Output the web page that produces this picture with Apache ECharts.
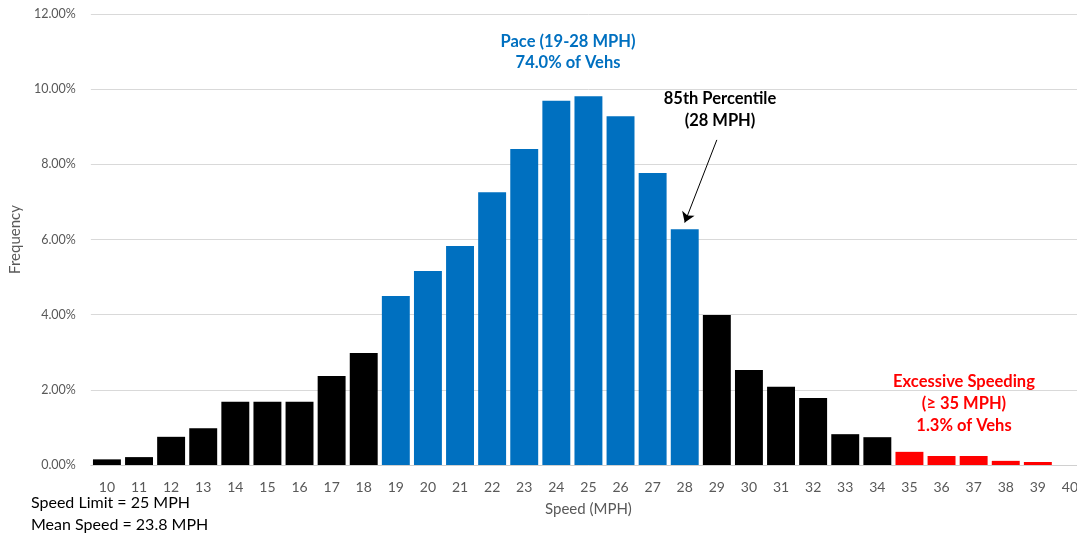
<!DOCTYPE html>
<html>
<head>
<meta charset="utf-8">
<script src="https://cdn.jsdelivr.net/npm/echarts@6/dist/echarts.min.js"></script>
<style>
html,body{margin:0;padding:0;background:#fff;overflow:hidden;}
#chart{width:1086px;height:537px;}
</style>
</head>
<body>
<div id="chart"></div>
<script>
// Speed categories (MPH)
const speeds = ['10','11','12','13','14','15','16','17','18','19','20','21','22','23','24','25','26','27','28','29','30','31','32','33','34','35','36','37','38','39','40'];
// Frequency (%) per speed bin
const frequency = [0.15,0.21,0.75,0.98,1.68,1.68,1.68,2.37,2.98,4.50,5.16,5.83,7.26,8.41,9.69,9.81,9.28,7.77,6.27,3.99,2.53,2.08,1.78,0.82,0.74,0.35,0.24,0.24,0.11,0.08,null];
const yTicks = [0,2,4,6,8,10,12];
const paceRange = [19,28];
const excessiveFrom = 35;

const FONT = 'Lato, "Open Sans", sans-serif';
const chart = echarts.init(document.getElementById('chart'));

function barColor(sp){
  const s = Number(sp);
  if (s >= paceRange[0] && s <= paceRange[1]) return '#0070C0';
  if (s >= excessiveFrom) return '#FF0000';
  return '#000000';
}

chart.setOption({
  animation:false,
  textStyle:{fontFamily:FONT},
  grid:{left:88,right:0,top:14,bottom:72,containLabel:false},
  xAxis:{
    type:'category',
    data:speeds,
    name:'Speed (MPH)',
    nameLocation:'middle',
    nameGap:37,
    nameTextStyle:{color:'#595959',fontSize:15,fontFamily:FONT},
    axisLine:{lineStyle:{color:'#d0d0d0',width:1}},
    axisTick:{show:false},
    axisLabel:{color:'#595959',fontSize:14,margin:15,interval:0,fontFamily:FONT}
  },
  yAxis:{
    type:'value',
    min:yTicks[0],
    max:yTicks[yTicks.length-1],
    interval:yTicks[1]-yTicks[0],
    name:'Frequency',
    nameLocation:'middle',
    nameGap:65,
    nameTextStyle:{color:'#595959',fontSize:15,fontFamily:FONT},
    axisLine:{show:false},
    axisTick:{show:false},
    splitLine:{lineStyle:{color:'#d9d9d9',width:1}},
    axisLabel:{color:'#595959',fontSize:12.5,margin:15,fontFamily:FONT,formatter:v=>v.toFixed(2)+'%'}
  },
  series:[{
    type:'bar',
    barCategoryGap:'13%',
    data:frequency.map((v,i)=>({value:v,itemStyle:{color:barColor(speeds[i])}})),
    markLine:{
      silent:true,
      symbol:['none','arrow'],
      symbolSize:10,
      label:{show:false},
      lineStyle:{color:'#000',type:'solid',width:1},
      data:[[{coord:['29',8.65]},{coord:['28',6.45]}]]
    }
  }],
  graphic:[
    {type:'text',x:568,y:52,style:{text:'Pace (19-28 MPH)\n74.0% of Vehs',fill:'#0070C0',font:'bold 16.5px '+FONT,align:'center',verticalAlign:'middle',lineHeight:21}},
    {type:'text',x:720,y:110,style:{text:'85th Percentile\n(28 MPH)',fill:'#000',font:'bold 16.5px '+FONT,align:'center',verticalAlign:'middle',lineHeight:22}},
    {type:'text',x:964,y:404,style:{text:'Excessive Speeding\n(≥ 35 MPH)\n1.3% of Vehs',fill:'#FF0000',font:'bold 16.5px '+FONT,align:'center',verticalAlign:'middle',lineHeight:22}},
    {type:'text',x:31,y:503,style:{text:'Speed Limit = 25 MPH',fill:'#000',font:'16px '+FONT,verticalAlign:'middle'}},
    {type:'text',x:31,y:525,style:{text:'Mean Speed = 23.8 MPH',fill:'#000',font:'16px '+FONT,verticalAlign:'middle'}}
  ]
});
</script>
</body>
</html>
